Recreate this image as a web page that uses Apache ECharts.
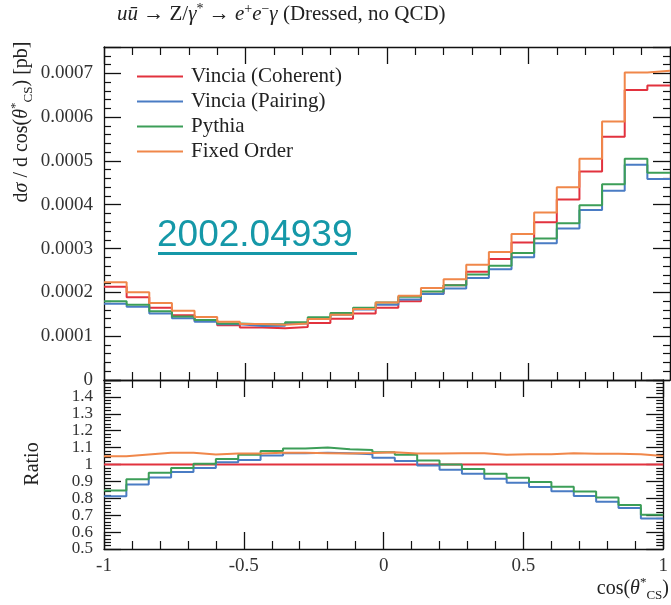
<!DOCTYPE html>
<html>
<head>
<meta charset="utf-8">
<script src="https://cdn.jsdelivr.net/npm/echarts@6/dist/echarts.min.js"></script>
<style>
  html, body { margin: 0; padding: 0; background: #fff; }
  #chart { width: 671px; height: 605px; }
</style>
</head>
<body>
<div id="chart"></div>
<script>
// Bin edges in cos(theta*_CS): 25 bins of width 0.08
const binEdges = [-1, -0.92, -0.84, -0.76, -0.68, -0.6, -0.52, -0.44, -0.36, -0.28, -0.2, -0.12, -0.04,
  0.04, 0.12, 0.2, 0.28, 0.36, 0.44, 0.52, 0.6, 0.68, 0.76, 0.84, 0.92, 1];

const seriesNames = ['Vincia (Coherent)', 'Vincia (Pairing)', 'Pythia', 'Fixed Order'];
const seriesColors = ['#e2323e', '#4a7cc4', '#3c9e58', '#f0874a'];

// dsigma / dcos(theta*_CS) [pb], one value per bin
const coherent = [0.000213, 0.000189, 0.000165, 0.000148, 0.000136, 0.000125, 0.000120, 0.000118, 0.000121,
  0.000130, 0.000140, 0.000152, 0.000165, 0.000180, 0.000197, 0.000216, 0.000247, 0.000276, 0.000314,
  0.000360, 0.000412, 0.000476, 0.000555, 0.000662, 0.000672];
const pairing = [0.000174, 0.000167, 0.000152, 0.000141, 0.000133, 0.000127, 0.000123, 0.000124, 0.000129,
  0.000139, 0.000149, 0.000161, 0.000172, 0.000184, 0.000196, 0.000209, 0.000233, 0.000253, 0.000280,
  0.000312, 0.000346, 0.000388, 0.000432, 0.000491, 0.000459];
const pythia = [0.000180, 0.000172, 0.000157, 0.000145, 0.000137, 0.000129, 0.000127, 0.000127, 0.000132,
  0.000143, 0.000153, 0.000165, 0.000177, 0.000190, 0.000202, 0.000216, 0.000241, 0.000261, 0.000290,
  0.000323, 0.000358, 0.000399, 0.000447, 0.000505, 0.000473];
const fixedOrder = [0.000223, 0.000200, 0.000176, 0.000158, 0.000144, 0.000133, 0.000128, 0.000126, 0.000129,
  0.000139, 0.000149, 0.000162, 0.000177, 0.000192, 0.000210, 0.000230, 0.000263, 0.000292, 0.000333,
  0.000382, 0.000440, 0.000505, 0.000590, 0.000702, 0.000706];

// Ratio to Vincia (Coherent), one value per bin
const ratioCoherent = [1, 1, 1, 1, 1, 1, 1, 1, 1, 1, 1, 1, 1, 1, 1, 1, 1, 1, 1, 1, 1, 1, 1, 1, 1];
const ratioPairing = [0.812, 0.882, 0.923, 0.955, 0.980, 1.014, 1.027, 1.053, 1.067, 1.069, 1.067, 1.061, 1.040,
  1.021, 0.994, 0.969, 0.945, 0.916, 0.892, 0.867, 0.841, 0.814, 0.780, 0.743, 0.681];
const ratioPythia = [0.846, 0.912, 0.951, 0.980, 1.004, 1.033, 1.057, 1.080, 1.094, 1.100, 1.090, 1.086, 1.073,
  1.057, 1.024, 1.000, 0.974, 0.945, 0.922, 0.896, 0.869, 0.840, 0.804, 0.760, 0.702];
const ratioFixed = [1.049, 1.059, 1.069, 1.070, 1.059, 1.065, 1.065, 1.069, 1.069, 1.067, 1.065, 1.068, 1.073,
  1.065, 1.065, 1.067, 1.067, 1.057, 1.061, 1.061, 1.067, 1.063, 1.063, 1.061, 1.050];

const topXTicks = { min: -1, max: 1, interval: 0.5 };
const topYTicks = { min: 0, max: 0.00076, interval: 0.0001 };
const ratioYTicks = { min: 0.5, max: 1.5, interval: 0.1 };

// Turn per-bin values into a stepped outline over the bin edges
function stepData(values) {
  const pts = values.map((v, i) => [binEdges[i], v]);
  pts.push([binEdges[binEdges.length - 1], values[values.length - 1]]);
  return pts;
}

const serif = 'Liberation Serif';
const tickColor = '#111';

function xAxisDef(gridIndex, position, showLabels) {
  return {
    type: 'value', gridIndex, position,
    min: topXTicks.min, max: topXTicks.max, interval: topXTicks.interval,
    axisLine: { show: true, onZero: false, lineStyle: { color: tickColor, width: 1.3 } },
    axisTick: { show: true, inside: true, length: 17, lineStyle: { color: tickColor, width: 1.3 } },
    minorTick: { show: true, splitNumber: 5, length: 8, lineStyle: { color: tickColor, width: 1.2 } },
    splitLine: { show: false },
    axisLabel: {
      show: showLabels, margin: 8, color: '#333', fontFamily: serif, fontSize: 19,
      formatter: v => String(Math.round(v * 10) / 10)
    }
  };
}

function yAxisDef(gridIndex, position, ticks, showLabels, fontSize, fmt) {
  return {
    type: 'value', gridIndex, position,
    min: ticks.min, max: ticks.max, interval: ticks.interval,
    axisLine: { show: true, onZero: false, lineStyle: { color: tickColor, width: 1.3 } },
    axisTick: { show: true, inside: true, length: 17, lineStyle: { color: tickColor, width: 1.3 } },
    minorTick: { show: true, splitNumber: 5, length: 7, lineStyle: { color: tickColor, width: 1.2 } },
    splitLine: { show: false },
    axisLabel: {
      show: showLabels, margin: 11, color: '#333', fontFamily: serif, fontSize: fontSize,
      showMinLabel: true, showMaxLabel: false, hideOverlap: false, formatter: fmt
    }
  };
}

const topSets = [coherent, pairing, pythia, fixedOrder];
const ratioSets = [ratioCoherent, ratioPairing, ratioPythia, ratioFixed];

const series = [];
topSets.forEach((vals, i) => {
  series.push({
    name: seriesNames[i], type: 'line', xAxisIndex: 0, yAxisIndex: 0,
    step: 'end', symbol: 'none', data: stepData(vals),
    lineStyle: { color: seriesColors[i], width: 2 }, itemStyle: { color: seriesColors[i] }
  });
});
ratioSets.forEach((vals, i) => {
  series.push({
    name: seriesNames[i], type: 'line', xAxisIndex: 2, yAxisIndex: 2,
    step: 'end', symbol: 'none', data: stepData(vals),
    lineStyle: { color: seriesColors[i], width: 2 }, itemStyle: { color: seriesColors[i] }
  });
});

const richMath = {
  i: { fontFamily: serif, fontStyle: 'italic', fontSize: 20, fill: '#222' },
  s: { fontFamily: serif, fontSize: 13, fill: '#222', verticalAlign: 'top', lineHeight: 26 },
  b: { fontFamily: serif, fontSize: 13, fill: '#222', verticalAlign: 'bottom', lineHeight: 26 }
};

const chart = echarts.init(document.getElementById('chart'), null, { renderer: 'canvas' });
chart.setOption({
  animation: false,
  backgroundColor: '#fff',
  grid: [
    { left: 104, top: 47, width: 566, height: 333 },
    { left: 104, top: 380, width: 566, height: 169 }
  ],
  xAxis: [
    xAxisDef(0, 'bottom', false),
    xAxisDef(0, 'top', false),
    xAxisDef(1, 'bottom', true),
    xAxisDef(1, 'top', false)
  ],
  yAxis: [
    yAxisDef(0, 'left', topYTicks, true, 19, v => (v === 0 ? '0' : v.toFixed(4))),
    yAxisDef(0, 'right', topYTicks, false, 19),
    yAxisDef(1, 'left', ratioYTicks, true, 17, v => String(Math.round(v * 10) / 10)),
    yAxisDef(1, 'right', ratioYTicks, false, 17)
  ],
  legend: {
    orient: 'vertical', left: 132, top: 61, itemGap: 4,
    itemWidth: 46, itemHeight: 2, icon: 'rect',
    data: seriesNames,
    textStyle: { fontFamily: serif, fontSize: 21, lineHeight: 19, color: '#222', padding: [0, 0, 0, 3] }
  },
  graphic: [
    {
      type: 'text', left: 117, top: 2,
      style: {
        text: '{i|uū} → Z/{i|γ}{s|*} → {i|e}{s|+}{i|e}{s|−}{i|γ} (Dressed, no QCD)',
        fontFamily: serif, fontSize: 21, fill: '#222',
        rich: {
          i: { fontFamily: serif, fontStyle: 'italic', fontSize: 21, fill: '#222' },
          s: { fontFamily: serif, fontSize: 14, fill: '#222', verticalAlign: 'top', lineHeight: 25 }
        }
      }
    },
    {
      type: 'text', x: 22, y: 122, rotation: Math.PI / 2,
      style: {
        text: 'd{i|σ} / d cos({i|θ}{s|*}{b|CS}) [pb]',
        fontFamily: serif, fontSize: 20, fill: '#222', align: 'center', verticalAlign: 'middle',
        rich: richMath
      }
    },
    {
      type: 'text', x: 33, y: 464, rotation: Math.PI / 2,
      style: {
        text: 'Ratio', fontFamily: serif, fontSize: 20, fill: '#222',
        align: 'center', verticalAlign: 'middle'
      }
    },
    {
      type: 'text', x: 669, y: 589,
      style: {
        text: 'cos({i|θ}{s|*}{b|CS})',
        fontFamily: serif, fontSize: 20, fill: '#222', align: 'right', verticalAlign: 'middle',
        rich: richMath
      }
    },
    {
      type: 'text', x: 157, y: 236, z: 100,
      style: {
        text: '2002.04939', fontFamily: 'Liberation Sans', fontSize: 37, fill: '#1598a8',
        align: 'left', verticalAlign: 'middle'
      }
    },
    {
      type: 'rect', z: 100,
      shape: { x: 158, y: 252, width: 199, height: 3 },
      style: { fill: '#1598a8' }
    }
  ],
  series
});
</script>
</body>
</html>
